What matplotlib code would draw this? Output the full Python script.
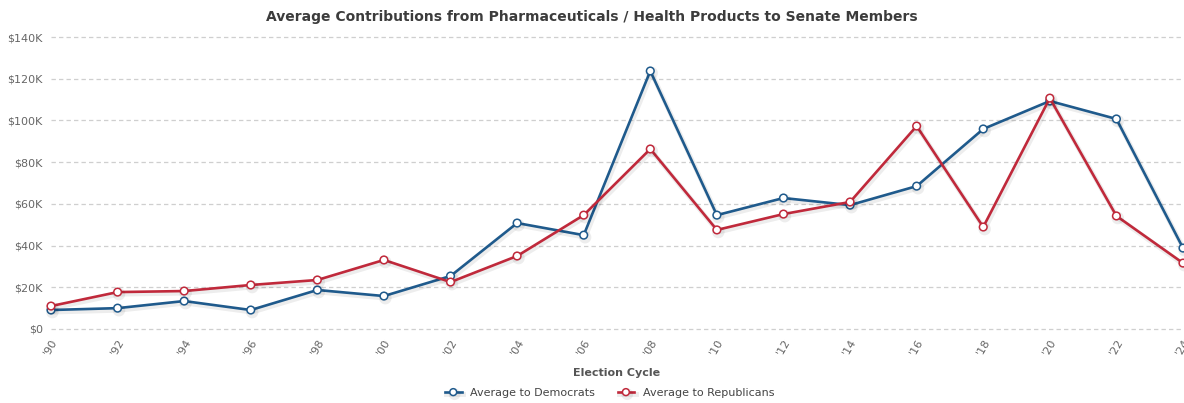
import matplotlib.pyplot as plt
import matplotlib.patheffects as pe
from matplotlib.ticker import FuncFormatter

cycles = ["'90", "'92", "'94", "'96", "'98", "'00", "'02", "'04", "'06",
          "'08", "'10", "'12", "'14", "'16", "'18", "'20", "'22", "'24"]
dems = [9.1, 10.0, 13.4, 9.1, 18.7, 15.8, 25.4, 50.8, 45.0,
        123.7, 54.6, 62.8, 59.4, 68.5, 95.9, 109.3, 100.7, 38.8]
reps = [11.0, 17.7, 18.2, 21.1, 23.5, 33.1, 22.5, 35.0, 54.6,
        86.3, 47.5, 55.1, 60.9, 97.3, 48.9, 110.7, 54.2, 31.6]

blue = "#1f5a8c"
red = "#c0293b"

fig = plt.figure(figsize=(11.84, 4.03), dpi=100)
ax = fig.add_axes([51 / 1184, 1 - 329 / 403, 1132 / 1184, 292 / 403])

x = range(len(cycles))
shadow = [pe.SimpleLineShadow(offset=(1, -1.5), shadow_color="#000000", alpha=0.07, linewidth=3.5), pe.Normal()]
ax.plot(x, dems, color=blue, lw=1.9, marker="o", ms=5.5, mfc="white", mec=blue, mew=1.1,
        label="Average to Democrats", path_effects=shadow, zorder=3, clip_on=False)
ax.plot(x, reps, color=red, lw=1.9, marker="o", ms=5.5, mfc="white", mec=red, mew=1.1,
        label="Average to Republicans", path_effects=shadow, zorder=4, clip_on=False)

ax.set_xlim(0, len(cycles) - 1)
ax.set_ylim(0, 140)
ax.set_yticks(range(0, 141, 20))
ax.yaxis.set_major_formatter(FuncFormatter(lambda v, p: "$0" if v == 0 else f"${int(v)}K"))
ax.set_xticks(list(x))
ax.set_xticklabels(cycles, rotation=60, ha="right", va="top", rotation_mode="anchor")
ax.tick_params(axis="both", length=0, labelsize=8, labelcolor="#666666")
ax.tick_params(axis="x", pad=6)
ax.tick_params(axis="y", pad=6)
ax.grid(axis="y", color="#cfcfcf", ls=(0, (3.5, 2.5)), lw=0.9)
for gl in ax.get_ygridlines():
    gl.set_clip_on(False)
for s in ax.spines.values():
    s.set_visible(False)

ax.set_xlabel("Election Cycle", fontsize=8, fontweight="bold", color="#555555", labelpad=8)
fig.text(0.5, 1 - 17 / 403, "Average Contributions from Pharmaceuticals / Health Products to Senate Members",
         ha="center", va="center", fontsize=10, fontweight="bold", color="#3c3c3c")

leg = fig.legend(loc="center", bbox_to_anchor=(0.515, 1 - 393 / 403), ncol=2, frameon=False,
                 fontsize=8, labelcolor="#444444", handlelength=1.5, columnspacing=2.0, markerscale=0.9)

fig.savefig("out.png", dpi=100)
